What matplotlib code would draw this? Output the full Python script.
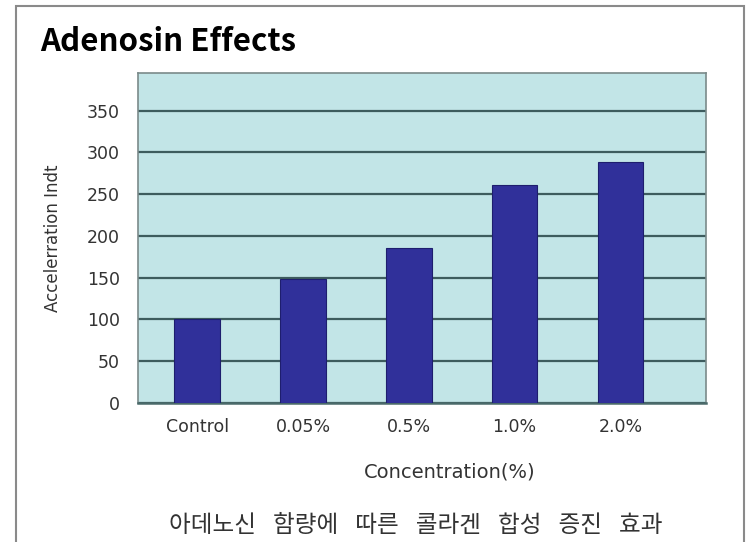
import matplotlib.pyplot as plt
from matplotlib.patches import Rectangle

# data
categories = ["Control", "0.05%", "0.5%", "1.0%", "2.0%"]
values = [100, 148, 186, 261, 289]
yticks = [0, 50, 100, 150, 200, 250, 300, 350]

plt.rcParams['font.family'] = ['DejaVu Sans']

fig = plt.figure(figsize=(7.48, 5.42), dpi=100)

# outer frame of the slide box
fig.patches.append(Rectangle((16 / 748, -0.05), (744 - 16) / 748, 1.05 - 6 / 542,
                             transform=fig.transFigure, fill=False,
                             edgecolor="#8a8a8a", linewidth=1.5))

ax = fig.add_axes([138 / 748, 1 - 403 / 542, (706 - 138) / 748, (403 - 73) / 542])
ax.set_facecolor("#c2e5e7")

x = range(len(categories))
ax.bar(x, values, width=0.43, color="#30309a", edgecolor="#1e1e6e",
       linewidth=0.8, zorder=3)

ax.set_ylim(0, 395)
ax.set_xlim(-0.56, len(categories) - 1 + 0.81)
ax.set_yticks(yticks)
ax.set_yticklabels([str(t) for t in yticks], fontsize=12.5, color="#333333")
ax.set_xticks(list(x))
ax.set_xticklabels(categories, fontsize=12.5, color="#333333")
ax.tick_params(length=0)
ax.tick_params(axis='y', pad=13)
ax.tick_params(axis='x', pad=11)

ax.yaxis.grid(True, color="#3d5c5e", linewidth=1.6, zorder=1)
ax.set_axisbelow(True)
for s in ax.spines.values():
    s.set_color("#7a8a8a")
    s.set_linewidth(1.2)
ax.spines['bottom'].set_color("#4a6a6a")
ax.spines['bottom'].set_linewidth(1.8)

ax.set_ylabel("Accelerration Indt", fontsize=12, labelpad=18, color="#333333")

fig.text(450 / 748, 1 - 472 / 542, "Concentration(%)", fontsize=14,
         ha="center", va="center", color="#333333")

fig.text(40 / 748, 1 - 42 / 542, "Adenosin Effects", fontsize=22.5,
         fontweight="bold", va="center", ha="left",
         family=['Noto Sans CJK KR', 'DejaVu Sans'])
caption = "\u2002 ".join(["아데노신", "함량에", "따른", "콜라겐", "합성", "증진", "효과"])
fig.text(416 / 748, 1 - 525 / 542, caption,
         fontsize=17, va="center", ha="center", color="#333333",
         family=['Noto Sans CJK KR', 'DejaVu Sans'])

fig.savefig("out.png", dpi=100)
